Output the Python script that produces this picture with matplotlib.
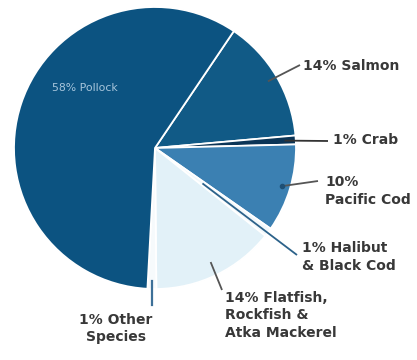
import numpy as np
import matplotlib
matplotlib.use("Agg")
from matplotlib import pyplot as plt

# Catch share by species group, clockwise from Salmon
species = [
    "Salmon",
    "Crab",
    "Pacific Cod",
    "Halibut & Black Cod",
    "Flatfish, Rockfish & Atka Mackerel",
    "Other Species",
    "Pollock",
]
shares = [14, 1, 10, 1, 14, 1, 58]
labels = [
    "14% Salmon",
    "1% Crab",
    "10%\nPacific Cod",
    "1% Halibut\n& Black Cod",
    "14% Flatfish,\nRockfish &\nAtka Mackerel",
    "1% Other\nSpecies",
    "58% Pollock",
]
colors = ["#115a86", "#0b3557", "#3b80b2", "#f2f8fb", "#e2f1f8", "#f6fafc", "#0c5381"]

plt.rcParams["font.family"] = ["DejaVu Sans"]

W, H = 417, 360
cx, cy, R = 155, 148, 141
fig = plt.figure(figsize=(W / 100, H / 100), dpi=100)
ax = fig.add_axes([(cx - R) / W, 1 - (cy + R) / H, 2 * R / W, 2 * R / H])

wedges, _ = ax.pie(
    shares,
    colors=colors,
    startangle=56,
    counterclock=False,
    wedgeprops=dict(edgecolor="white", linewidth=1.3),
)
ax.set_xlim(-1, 1)
ax.set_ylim(-1, 1)
ax.set_aspect("equal")
ax.axis("off")


def px(x, y):
    # pixel position -> data coordinates of the pie axes
    return (x - cx) / R, (cy - y) / R


def mid(w):
    a = np.deg2rad((w.theta1 + w.theta2) / 2)
    return np.cos(a), np.sin(a)


text_kw = dict(fontsize=10, fontweight="bold", color="#383838", linespacing=1.3)
gray = "#555555"

# leaders: (start radius, end point in px, text point in px, ha, va, line colour)
leaders = {
    "Salmon": (0.93, (300, 65), (303, 66), "left", "center", gray),
    "Crab": (0.92, (328, 141), (333, 140), "left", "center", "#333333"),
    "Pacific Cod": (0.94, (318, 181), (325, 191), "left", "center", gray),
    "Halibut & Black Cod": (0.42, (297, 255), (302, 257), "left", "center", "#2c628a"),
    "Flatfish, Rockfish & Atka Mackerel": (0.90, (222, 290), (225, 291), "left", "top", gray),
}

for w, name, lab in zip(wedges, species, labels):
    ux, uy = mid(w)
    if name in leaders:
        r0, end, tpos, ha, va, lc = leaders[name]
        ex, ey = px(*end)
        ax.plot([ux * r0, ex], [uy * r0, ey], color=lc, lw=1.3,
                solid_capstyle="butt", clip_on=False)
        if name == "Pacific Cod":
            ax.plot(ux * r0, uy * r0, "o", ms=3, color="#1d4f75", clip_on=False)
        tx, ty = px(*tpos)
        ax.text(tx, ty, lab, ha=ha, va=va, **text_kw)
    elif name == "Other Species":
        x0 = ux * 0.94
        ax.plot([x0, x0], [-0.94, px(0, 305)[1]], color="#3d7098", lw=1.6,
                clip_on=False)
        tx, ty = px(116, 313)
        ax.text(tx, ty, lab, ha="center", va="top", **text_kw)
    else:
        tx, ty = px(85, 88)
        ax.text(tx, ty, lab, ha="center", va="center", fontsize=7.8,
                color="#a8c6dc")

fig.savefig("out.png", dpi=100)
